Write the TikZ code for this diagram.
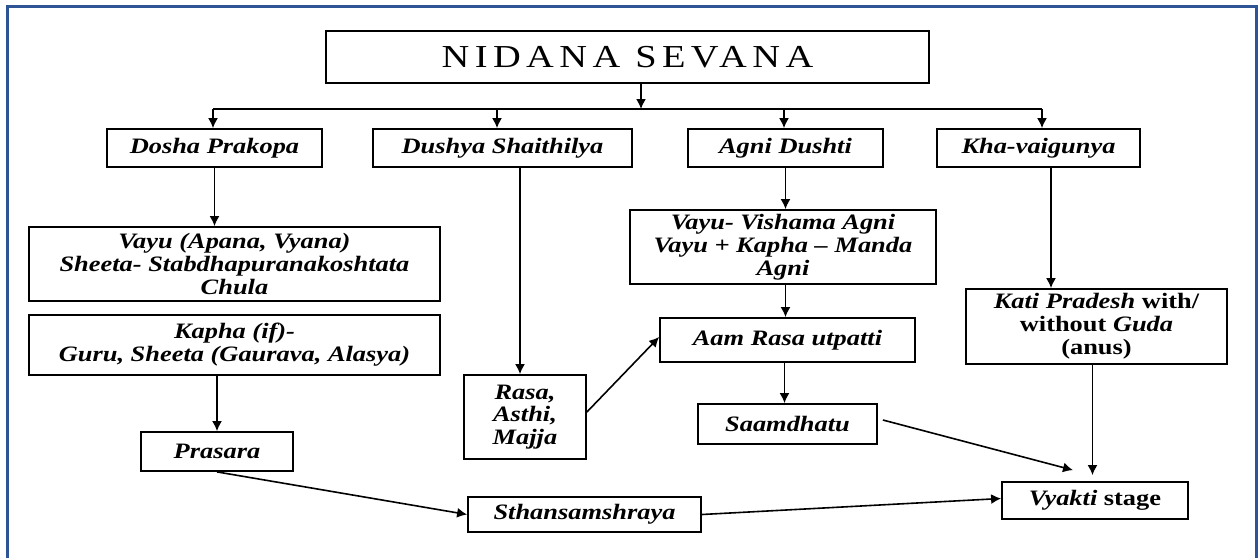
\documentclass[tikz,border=0pt]{standalone}
\usepackage{fontspec}
\setmainfont{Liberation Serif}[FakeStretch = 1.2]
\usetikzlibrary{positioning}
\usetikzlibrary{arrows.meta}
\usetikzlibrary{calc}
\definecolor{frameblue}{RGB}{47,84,150}
\tikzset{
  box/.style = {draw, line width = 0.9pt, inner sep = 0pt, align = center, font = \fontsize{11}{11.4}\selectfont\bfseries\itshape},
  uprightbox/.style = {box, font = \fontsize{11}{11.4}\selectfont\bfseries\upshape},
  link/.style = {-{Latex[length = 5pt, width = 5pt]}, line width = 0.8pt},
}
\begin{document}
\begin{tikzpicture}[x = 0.5pt, y = -0.5pt]
\useasboundingbox (0, 0) rectangle (1259, 558);
\draw[frameblue, line width = 1.5pt] (7, 558) -- (7, 6) -- (1256, 6) -- (1256, 558);
\node[box, font = \fontsize{16}{16}\selectfont\addfontfeature{LetterSpace = 17}, minimum width = 301.5pt, minimum height = 26pt] (nidana) at (627.5, 57) {NIDANA SEVANA};
\node[box, minimum width = 107.5pt, minimum height = 19pt] (dosha) at (214.5, 148) {Dosha Prakopa};
\node[box, minimum width = 129.5pt, minimum height = 19pt] (dushya) at (502.5, 148) {Dushya Shaithilya};
\node[box, minimum width = 97.5pt, minimum height = 19pt] (agni) at (785.5, 148) {Agni Dushti};
\node[box, minimum width = 101.5pt, minimum height = 19pt] (kha) at (1038.5, 148) {Kha-vaigunya};
\node[box, minimum width = 205.5pt, minimum height = 37pt] (vayu) at (234.5, 264) {Vayu (Apana, Vyana)\\Sheeta- Stabdhapuranakoshtata\\Chula};
\node[box, minimum width = 205.5pt, minimum height = 30pt, below = 6pt of vayu] (kapha) {Kapha (if)-\\Guru, Sheeta (Gaurava, Alasya)};
\node[box, minimum width = 76pt, minimum height = 19.5pt] (prasara) at (217, 451.5) {Prasara};
\node[box, minimum width = 61pt, minimum height = 42pt] (rasa) at (525, 417) {Rasa,\\Asthi,\\Majja};
\node[box, minimum width = 153pt, minimum height = 37pt] (vishama) at (783, 247) {Vayu- Vishama Agni\\Vayu + Kapha -- Manda\\Agni};
\node[box, minimum width = 127.5pt, minimum height = 22pt] (aam) at (787.5, 340) {Aam Rasa utpatti};
\node[box, minimum width = 89.5pt, minimum height = 20pt] (saam) at (787.5, 424) {Saamdhatu};
\node[uprightbox, minimum width = 130.5pt, minimum height = 37.5pt] (kati) at (1096.5, 326.5) {\textit{Kati Pradesh} with/\\without \textit{Guda}\\(anus)};
\node[box, minimum width = 116.5pt, minimum height = 17.5pt] (sthan) at (584.5, 514.5) {Sthansamshraya};
\node[uprightbox, minimum width = 93pt, minimum height = 18.5pt] (vyakti) at (1095, 500.5) {\textit{Vyakti} stage};
\coordinate (split) at (641, 109);
\draw[link] (nidana.south -| split) -- (split);
\draw[line width = 0.8pt] (213, 109) -- (1042, 109);
\foreach \x/\name in {213/dosha, 497/dushya, 784/agni, 1042/kha} {
  \path (\x, 109) coordinate (tap);
  \draw[link] (tap) -- (tap |- \name.north);
}
\draw[link] (dosha.south) -- (dosha.south |- vayu.north);
\draw[link] (prasara.north |- kapha.south) -- (prasara.north);
\draw[link] ([xshift = -2.5pt]rasa.north |- dushya.south) -- ([xshift = -2.5pt]rasa.north);
\draw[link] (agni.south) -- (agni.south |- vishama.north);
\draw[link] (agni.south |- vishama.south) -- (agni.south |- aam.north);
\draw[link] ([xshift = -1.5pt]aam.south) -- ([xshift = -1.5pt]saam.north);
\draw[link] ([xshift = 6.25pt]kha.south) -- ([xshift = 6.25pt]kha.south |- kati.north);
\draw[link, shorten > = 3pt] ([xshift = -2pt]kati.south) -- ([xshift = -2pt]kati.south |- vyakti.north);
\draw[link] ([yshift = 2.5pt]rasa.east) -- ([yshift = 1.5pt]aam.west);
\draw[link] ($(saam.east) + (5, -4)$) -- ($(vyakti.north) + (-22, -11)$);
\draw[link] (prasara.south) -- (sthan.west);
\draw[link] (sthan.east) -- ([yshift = 1pt]vyakti.west);
\end{tikzpicture}
\end{document}
